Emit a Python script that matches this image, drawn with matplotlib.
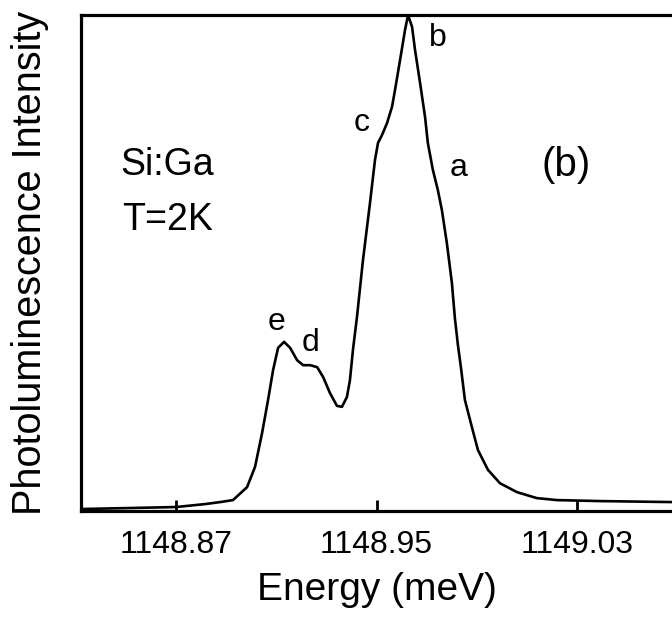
import matplotlib
matplotlib.use('Agg')
import matplotlib.pyplot as plt

plt.rcParams['font.family'] = ['Liberation Sans', 'DejaVu Sans']

# spectrum (energy in meV, intensity normalised to peak b)
energy = [1148.8321, 1148.8516, 1148.8700, 1148.8816, 1148.8876, 1148.8927,
          1148.8983, 1148.9015, 1148.9043, 1148.9067, 1148.9087, 1148.9107,
          1148.9131, 1148.9155, 1148.9183, 1148.9207, 1148.9235, 1148.9263,
          1148.9287, 1148.9314, 1148.9342, 1148.9362, 1148.9382, 1148.9394,
          1148.9406, 1148.9422, 1148.9446, 1148.9474, 1148.9494, 1148.9506,
          1148.9522, 1148.9542, 1148.9562, 1148.9574, 1148.9594, 1148.9614,
          1148.9626, 1148.9642, 1148.9654, 1148.9674, 1148.9694, 1148.9705,
          1148.9725, 1148.9745, 1148.9761, 1148.9781, 1148.9801, 1148.9813,
          1148.9825, 1148.9837, 1148.9853, 1148.9881, 1148.9905, 1148.9945,
          1148.9993, 1149.0061, 1149.0140, 1149.0220, 1149.0392, 1149.0679]
intensity = [0.004, 0.006, 0.008, 0.014, 0.018, 0.022,
             0.048, 0.089, 0.157, 0.224, 0.284, 0.329,
             0.341, 0.329, 0.304, 0.294, 0.294, 0.290,
             0.270, 0.238, 0.212, 0.210, 0.230, 0.264,
             0.325, 0.391, 0.506, 0.621, 0.708, 0.742,
             0.758, 0.782, 0.815, 0.849, 0.909, 0.970,
             1.000, 0.976, 0.929, 0.863, 0.794, 0.742,
             0.688, 0.647, 0.607, 0.540, 0.460, 0.389,
             0.335, 0.290, 0.224, 0.169, 0.123, 0.083,
             0.056, 0.038, 0.026, 0.022, 0.020, 0.018]

tick_values = [1148.87, 1148.95, 1149.03]
tick_labels = ['1148.87', '1148.95', '1149.03']

# peak labels
peak_names = ['a', 'b', 'c', 'd', 'e']
peak_x = [1148.9829, 1148.9745, 1148.9442, 1148.9235, 1148.9099]
peak_y = [0.692, 0.954, 0.782, 0.339, 0.381]

fig = plt.figure(figsize=(6.72, 6.3), dpi=100)
ax = fig.add_axes([81 / 672, 1 - 511 / 630, 1 - 81 / 672, 496 / 630])

ax.plot(energy, intensity, color='black', lw=1.9,
        solid_joinstyle='round', solid_capstyle='round')

ax.set_xlim(1148.832, 1149.068)
ax.set_ylim(0, 1.0)

ax.set_xticks(tick_values)
ax.set_xticklabels(tick_labels)
ax.set_yticks([])
ax.tick_params(axis='x', direction='in', length=8, width=2, labelsize=23, pad=14)

for side in ['left', 'top', 'bottom']:
    ax.spines[side].set_linewidth(2.3)
ax.spines['right'].set_visible(False)

ax.set_xlabel('Energy (meV)', fontsize=28, labelpad=8)
ax.set_ylabel('Photoluminescence Intensity', fontsize=28.5, va='center')
ax.yaxis.set_label_coords(-0.086, 0.5)

for name, x, y in zip(peak_names, peak_x, peak_y):
    ax.text(x, y, name, fontsize=23, ha='center', va='center')

ax.text(1148.8664, 0.698, 'Si:Ga', fontsize=27, ha='center', va='center')
ax.text(1148.8664, 0.587, 'T=2K', fontsize=27, ha='center', va='center')
ax.text(1149.0256, 0.698, '(b)', fontsize=29, ha='center', va='center')

fig.savefig('out.png', dpi=100)
